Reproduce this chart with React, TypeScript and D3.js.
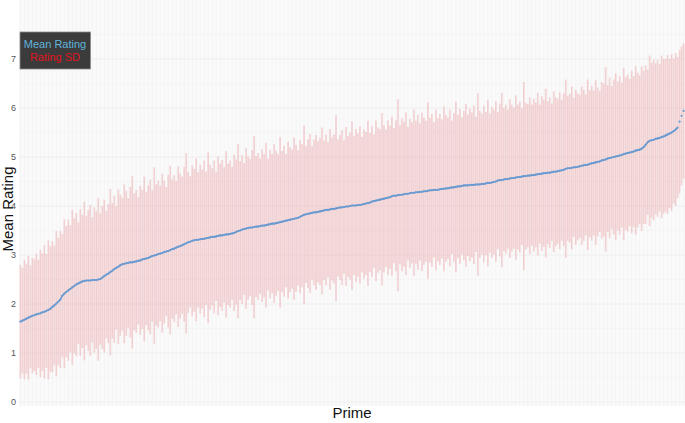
import * as d3 from "d3";

// mean rating per prime, sorted ascending
const meanRatings: number[] = [
  1.64, 1.66, 1.68, 1.7, 1.72, 1.74, 1.76, 1.77, 1.79, 1.8,
  1.81, 1.83, 1.84, 1.86, 1.88, 1.9, 1.94, 1.97, 2.01, 2.05,
  2.09, 2.17, 2.21, 2.25, 2.28, 2.31, 2.34, 2.37, 2.4, 2.42,
  2.44, 2.46, 2.47, 2.48, 2.48, 2.48, 2.49, 2.49, 2.49, 2.5,
  2.51, 2.54, 2.57, 2.6, 2.62, 2.65, 2.68, 2.71, 2.74, 2.76,
  2.79, 2.81, 2.82, 2.83, 2.84, 2.85, 2.85, 2.86, 2.87, 2.88,
  2.89, 2.91, 2.92, 2.93, 2.94, 2.96, 2.98, 2.99, 3.0, 3.02,
  3.03, 3.04, 3.06, 3.07, 3.08, 3.1, 3.12, 3.13, 3.15, 3.17,
  3.18, 3.2, 3.22, 3.24, 3.26, 3.27, 3.29, 3.3, 3.31, 3.31,
  3.32, 3.33, 3.33, 3.34, 3.35, 3.36, 3.37, 3.37, 3.38, 3.39,
  3.4, 3.4, 3.41, 3.42, 3.42, 3.43, 3.44, 3.45, 3.47, 3.49,
  3.5, 3.52, 3.53, 3.54, 3.55, 3.56, 3.56, 3.57, 3.58, 3.58,
  3.59, 3.6, 3.6, 3.61, 3.62, 3.63, 3.64, 3.64, 3.65, 3.66,
  3.67, 3.68, 3.69, 3.7, 3.71, 3.72, 3.73, 3.74, 3.75, 3.76,
  3.78, 3.8, 3.82, 3.83, 3.84, 3.85, 3.86, 3.87, 3.87, 3.88,
  3.89, 3.9, 3.91, 3.92, 3.92, 3.93, 3.94, 3.94, 3.95, 3.96,
  3.97, 3.97, 3.98, 3.99, 3.99, 4.0, 4.01, 4.01, 4.01, 4.02,
  4.02, 4.03, 4.04, 4.05, 4.06, 4.07, 4.09, 4.1, 4.11, 4.12,
  4.13, 4.14, 4.15, 4.16, 4.17, 4.18, 4.2, 4.21, 4.21, 4.22,
  4.23, 4.23, 4.24, 4.25, 4.25, 4.26, 4.27, 4.27, 4.28, 4.28,
  4.29, 4.29, 4.3, 4.3, 4.31, 4.32, 4.32, 4.33, 4.33, 4.33,
  4.34, 4.35, 4.35, 4.36, 4.36, 4.37, 4.38, 4.38, 4.39, 4.4,
  4.4, 4.41, 4.42, 4.42, 4.42, 4.43, 4.43, 4.43, 4.44, 4.44,
  4.44, 4.45, 4.45, 4.46, 4.47, 4.47, 4.48, 4.49, 4.5, 4.52,
  4.53, 4.53, 4.54, 4.55, 4.55, 4.56, 4.57, 4.57, 4.58, 4.59,
  4.59, 4.6, 4.61, 4.61, 4.62, 4.62, 4.63, 4.63, 4.64, 4.65,
  4.65, 4.66, 4.67, 4.67, 4.68, 4.68, 4.69, 4.7, 4.7, 4.71,
  4.72, 4.73, 4.74, 4.76, 4.77, 4.77, 4.78, 4.79, 4.79, 4.8,
  4.81, 4.82, 4.83, 4.84, 4.84, 4.86, 4.87, 4.88, 4.89, 4.9,
  4.91, 4.93, 4.94, 4.95, 4.97, 4.98, 4.99, 5.0, 5.01, 5.02,
  5.03, 5.04, 5.06, 5.07, 5.08, 5.09, 5.1, 5.11, 5.13, 5.14,
  5.15, 5.17, 5.2, 5.25, 5.3, 5.33, 5.34, 5.35, 5.37, 5.38,
  5.39, 5.41, 5.42, 5.44, 5.46, 5.48, 5.5, 5.53, 5.56, 5.6,
  5.72, 5.84, 5.94,
];

// rating standard deviation per prime (same order)
const ratingSDs: number[] = [
  1.16, 1.08, 1.22, 1.12, 1.26, 1.05, 1.18, 1.14, 1.24, 1.1,
  1.3, 1.2, 1.36, 1.16, 1.42, 1.28, 1.34, 1.22, 1.48, 1.3,
  1.4, 1.26, 1.52, 1.34, 1.44, 1.3, 1.58, 1.38, 1.46, 1.24,
  1.5, 1.36, 1.62, 1.32, 1.44, 1.54, 1.28, 1.48, 1.4, 1.66,
  1.34, 1.46, 1.56, 1.3, 1.42, 1.7, 1.38, 1.5, 1.26, 1.58,
  1.44, 1.36, 1.62, 1.48, 1.32, 1.54, 1.76, 1.4, 1.46, 1.3,
  1.52, 1.42, 1.68, 1.36, 1.48, 1.58, 1.34, 1.8, 1.44, 1.5,
  1.38, 1.62, 1.46, 1.32, 1.56, 1.72, 1.42, 1.5, 1.36, 1.64,
  1.48, 1.4, 1.58, 1.84, 1.44, 1.34, 1.54, 1.46, 1.66, 1.38,
  1.52, 1.42, 1.6, 1.36, 1.74, 1.48, 1.4, 1.56, 1.32, 1.62,
  1.46, 1.54, 1.38, 1.7, 1.44, 1.5, 1.36, 1.6, 1.48, 1.78,
  1.42, 1.52, 1.34, 1.64, 1.46, 1.4, 1.58, 1.86, 1.44, 1.5,
  1.38, 1.56, 1.46, 1.68, 1.34, 1.52, 1.42, 1.62, 1.48, 1.4,
  1.74, 1.44, 1.54, 1.36, 1.6, 1.48, 1.42, 1.66, 1.5, 1.38,
  1.56, 1.46, 1.82, 1.4, 1.52, 1.62, 1.36, 1.48, 1.58, 1.44,
  1.5, 1.7, 1.42, 1.54, 1.38, 1.64, 1.46, 1.52, 1.9, 1.4,
  1.48, 1.58, 1.36, 1.62, 1.44, 1.5, 1.72, 1.42, 1.56, 1.46,
  1.6, 1.38, 1.52, 1.46, 1.68, 1.42, 1.54, 1.36, 1.64, 1.48,
  1.44, 1.76, 1.5, 1.4, 1.58, 1.46, 1.62, 1.38, 1.54, 1.96,
  1.42, 1.56, 1.48, 1.66, 1.36, 1.52, 1.44, 1.7, 1.46, 1.58,
  1.4, 1.62, 1.5, 1.44, 1.8, 1.48, 1.56, 1.38, 1.64, 1.46,
  1.54, 1.42, 1.68, 1.5, 1.44, 1.6, 1.36, 1.52, 1.74, 1.46,
  1.58, 1.4, 1.52, 1.66, 1.44, 1.56, 1.48, 1.62, 1.38, 1.86,
  1.5, 1.44, 1.6, 1.46, 1.7, 1.42, 1.54, 1.48, 1.64, 1.4,
  1.56, 1.78, 1.46, 1.52, 1.42, 1.62, 1.5, 1.44, 1.68, 1.48,
  1.54, 1.4, 1.92, 1.5, 1.46, 1.6, 1.44, 1.56, 1.48, 1.66,
  1.42, 1.58, 1.5, 1.72, 1.46, 1.54, 1.4, 1.64, 1.52, 1.48,
  1.6, 1.44, 1.56, 1.82, 1.48, 1.52, 1.66, 1.42, 1.58, 1.5,
  1.46, 1.62, 1.54, 1.44, 1.74, 1.5, 1.58, 1.48, 1.68, 1.52,
  1.44, 1.6, 1.56, 1.88, 1.5, 1.64, 1.46, 1.58, 1.7, 1.52,
  1.62, 1.48, 1.76, 1.56, 1.6, 1.5, 1.66, 1.54, 1.72, 1.58,
  1.52, 1.68, 1.56, 1.62, 1.48, 1.74, 1.58, 1.64, 1.54, 1.6,
  1.5, 1.66, 1.58, 1.56, 1.62, 1.52, 1.6, 1.48, 1.56, 1.44,
  1.46, 1.42, 1.38,
];

const yTicks: number[] = [0, 1, 2, 3, 4, 5, 6, 7];
const legendLabels: string[] = ["Mean Rating", "Rating SD"];

const primes = meanRatings.map((_, i) => `p${i + 1}`);

export default function App() {
  const width = 685;
  const height = 423;
  const panel = { left: 19, right: 685, top: 0, bottom: 406 };

  const x = d3
    .scaleBand()
    .domain(primes)
    .range([panel.left, panel.right])
    .paddingOuter(0.2);

  const y = d3.scaleLinear().domain([0, 7]).range([402, 59]);
  const cx = (p: string) => (x(p) || 0) + x.bandwidth() / 2;

  const meanLine = d3
    .line<number>()
    .x((_, i) => cx(primes[i]))
    .y((d) => y(d));

  const minorTicks = d3.range(-0.5, 8.5, 1).filter((v) => y(v) > panel.top && y(v) < panel.bottom);
  const font = "'Liberation Sans', Arial, sans-serif";

  return (
    <svg
      width={width}
      height={height}
      style={{ position: "absolute", left: 0, top: 0, background: "#ffffff" }}
    >
      <rect
        x={panel.left}
        y={panel.top}
        width={panel.right - panel.left}
        height={panel.bottom - panel.top}
        fill="#fafafa"
      />
      {/* vertical grid per prime */}
      {primes.map((p, i) =>
        i % 2 === 0 ? (
          <line
            key={"vg" + p}
            x1={cx(p)}
            x2={cx(p)}
            y1={panel.top}
            y2={panel.bottom}
            stroke="#f0f0f0"
            strokeWidth={0.6}
          />
        ) : null
      )}
      {minorTicks.map((t) => (
        <line key={"mg" + t} x1={panel.left} x2={panel.right} y1={y(t)} y2={y(t)} stroke="#f1f1f1" strokeWidth={0.6} />
      ))}
      {yTicks.map((t) => (
        <line key={"g" + t} x1={panel.left} x2={panel.right} y1={y(t)} y2={y(t)} stroke="#ececec" strokeWidth={0.8} />
      ))}

      {/* SD error bars */}
      {primes.map((p, i) => (
        <line
          key={"sd" + p}
          x1={cx(p)}
          x2={cx(p)}
          y1={y(meanRatings[i] - ratingSDs[i])}
          y2={y(meanRatings[i] + ratingSDs[i])}
          stroke="#e99aa0"
          strokeOpacity={0.42}
          strokeWidth={1.7}
        />
      ))}

      {/* mean rating */}
      <path
        d={meanLine(meanRatings.slice(0, 330)) || ""}
        fill="none"
        stroke="#6a9ad0"
        strokeWidth={1.6}
      />
      {primes.map((p, i) => (
        <circle key={"m" + p} cx={cx(p)} cy={y(meanRatings[i])} r={1.1} fill="#6a9ad0" />
      ))}

      {yTicks.map((t) => (
        <text
          key={"yt" + t}
          x={16}
          y={y(t)}
          dy="0.35em"
          textAnchor="end"
          fontSize={9}
          fill="#555"
          fontFamily={font}
        >
          {t}
        </text>
      ))}

      <text
        transform={`translate(13,${(panel.top + panel.bottom) / 2 + 6}) rotate(-90)`}
        textAnchor="middle"
        fontSize={15}
        fill="#111"
        fontFamily={font}
      >
        Mean Rating
      </text>
      <text x={352} y={418} textAnchor="middle" fontSize={15} fill="#111" fontFamily={font}>
        Prime
      </text>

      {/* legend */}
      <rect x={20} y={32} width={70.5} height={37} fill="#3b3b3b" stroke="#8a8a8a" strokeWidth={0.8} />
      <text x={55} y={48} textAnchor="middle" fontSize={11} fill="#5fb4dc" fontFamily={font}>
        {legendLabels[0]}
      </text>
      <text x={55} y={61} textAnchor="middle" fontSize={11} fill="#e0141e" fontFamily={font}>
        {legendLabels[1]}
      </text>
    </svg>
  );
}
